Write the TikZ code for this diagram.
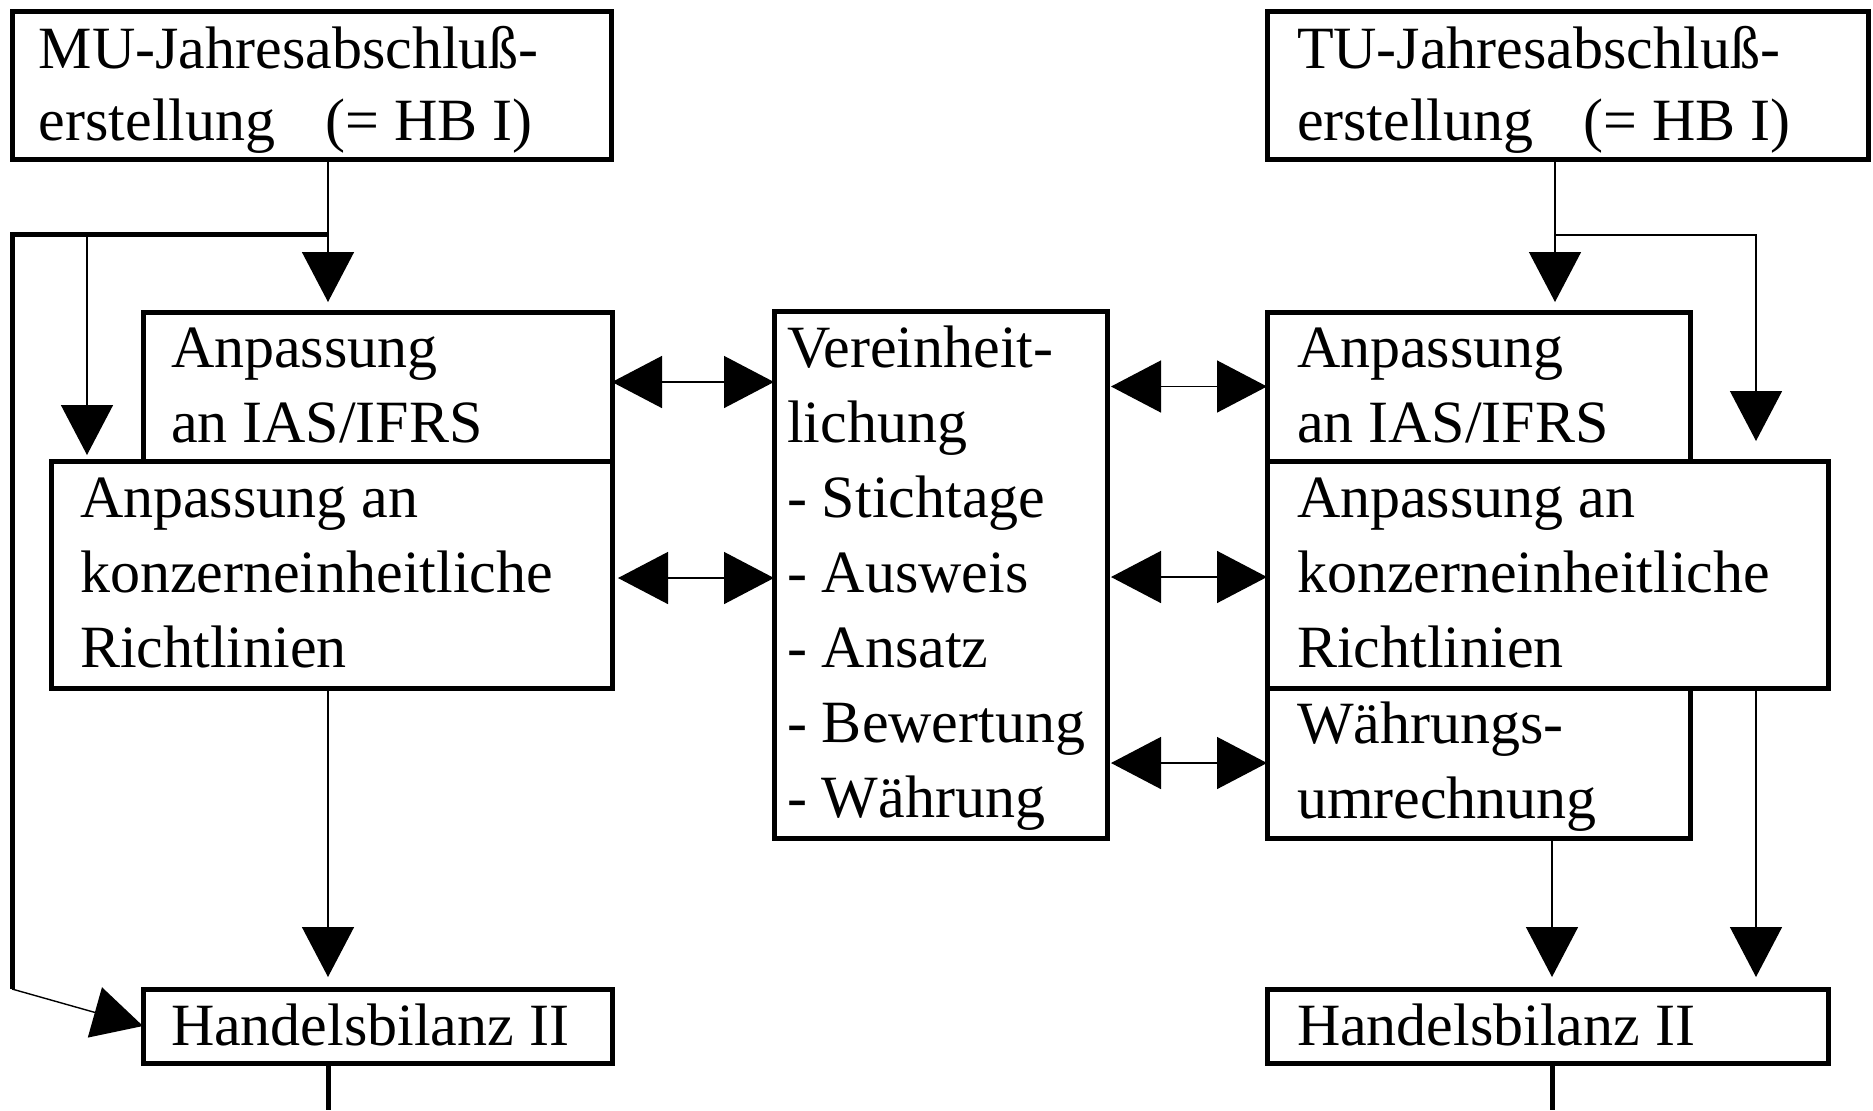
\documentclass[tikz,border=0pt]{standalone}
\usepackage{fontspec}
\setmainfont{Liberation Serif}
\usetikzlibrary{arrows.meta}
\newcommand{\mkbox}[5]{\node[box, minimum width={(#4-#2)*0.5pt}, minimum height={(#5-#3)*0.5pt}] (#1) at (#2,#3) {};}
\newcommand{\mktxt}[5][37.5pt]{\node[txt, font=\fontsize{30pt}{#1}\selectfont] (#2) at (#3,#4-48) {\rule{0pt}{24pt}#5};}
\begin{document}
\begin{tikzpicture}[x=0.5pt,y=-0.5pt,
  box/.style={draw, line width=2.5pt, rectangle, inner sep=0pt, outer sep=0pt, anchor=north west},
  txt/.style={anchor=north west, inner sep=0pt, outer sep=0pt, align=left},
  thinl/.style={line width=0.7pt},
  thickl/.style={line width=2.5pt},
  arr/.style={thinl, -{Triangle[length=25pt,width=26pt]}},
  darr/.style={thinl, {Triangle[length=25pt,width=26pt]}-{Triangle[length=25pt,width=26pt]}}
]
\useasboundingbox[fill=white] (0,0) rectangle (1873,1110);

% boxes
\mkbox{mu}{12}{11}{611}{159}
\mkbox{lias}{143}{312}{612}{461}
\mkbox{lkonz}{51}{461}{612}{688}
\mkbox{lhb}{143}{989}{612}{1063}
\mkbox{ctr}{774}{311}{1107}{838}
\mkbox{tu}{1267}{11}{1868}{159}
\mkbox{rias}{1267}{312}{1690}{461}
\mkbox{rkonz}{1267}{461}{1828}{688}
\mkbox{rw}{1267}{688}{1690}{838}
\mkbox{rhb}{1267}{989}{1828}{1063}

% texts
\mktxt[36pt]{tmu}{39}{68}{MU-Jahresabschluß-\\erstellung\hspace{25pt}(= HB I)}
\mktxt[36pt]{ttu}{1297}{68}{TU-Jahresabschluß-\\erstellung\hspace{25pt}(= HB I)}
\mktxt{tlias}{171}{367}{Anpassung\\an IAS/IFRS}
\mktxt{tlkonz}{80}{517}{Anpassung an\\konzerneinheitliche\\Richtlinien}
\mktxt{tlhb}{171}{1045}{Handelsbilanz II}
\mktxt{tctr}{787}{367}{Vereinheit-\\lichung\\- Stichtage\\- Ausweis\\- Ansatz\\- Bewertung\\- Währung}
\mktxt{trias}{1297}{367}{Anpassung\\an IAS/IFRS}
\mktxt{trkonz}{1297}{517}{Anpassung an\\konzerneinheitliche\\Richtlinien}
\mktxt{trw}{1297}{743}{Währungs-\\umrechnung}
\mktxt{trhb}{1297}{1045}{Handelsbilanz II}

% helper coordinates
\coordinate (cL) at (328,0);
\coordinate (cLL) at (87,0);
\coordinate (cLe) at (12,0);
\coordinate (jL) at (328,234);
\coordinate (bot) at (0,1110);
\coordinate (cR) at (1555,0);
\coordinate (jR) at (1555,235);
\coordinate (cRR) at (1756,0);
\coordinate (cR2) at (1552,0);
\coordinate (lk) at ([yshift=-1.75pt]lkonz.east);
\coordinate (li) at ([yshift=2.25pt]lias.east);
\coordinate (rk) at ([yshift=-1.25pt]rkonz.west);

% left side connectors
\draw[thinl] (mu.south -| cL) -- (jL);
\draw[arr, shorten >=5pt] (jL) -- (lias.north -| cL);
\draw[thickl] (jL) -- (jL -| cLe) -- (lhb.north -| cLe) coordinate (bendL);
\draw[arr] (bendL) -- (lhb.west);
\draw[arr, shorten >=3pt] (jL -| cLL) -- (lkonz.north -| cLL);
\draw[arr, shorten >=6pt] (lkonz.south -| cL) -- (lhb.north -| cL);
\draw[thickl] (lhb.south -| cL) -- (cL |- bot);

% center double arrows
\draw[darr] (li) -- (ctr.west |- li);
\draw[darr, shorten <=3pt] (lk) -- (ctr.west |- lk);
\draw[darr, shorten <=2pt] (ctr.east |- rias.west) -- (rias.west);
\draw[darr, shorten <=2pt] (ctr.east |- rk) -- (rk);
\draw[darr, shorten <=2pt] (ctr.east |- rw.west) -- (rw.west);

% right side connectors
\draw[thinl] (tu.south -| cR) -- (jR);
\draw[arr, shorten >=5pt] (jR) -- (rias.north -| cR);
\draw[arr, shorten >=10pt] (jR) -- (jR -| cRR) -- (rkonz.north -| cRR);
\draw[arr, shorten >=6pt] (rw.south -| cR2) -- (rhb.north -| cR2);
\draw[arr, shorten >=6pt] (rkonz.south -| cRR) -- (rhb.north -| cRR);
\draw[thickl] (rhb.south -| cR2) -- (cR2 |- bot);
\end{tikzpicture}
\end{document}
